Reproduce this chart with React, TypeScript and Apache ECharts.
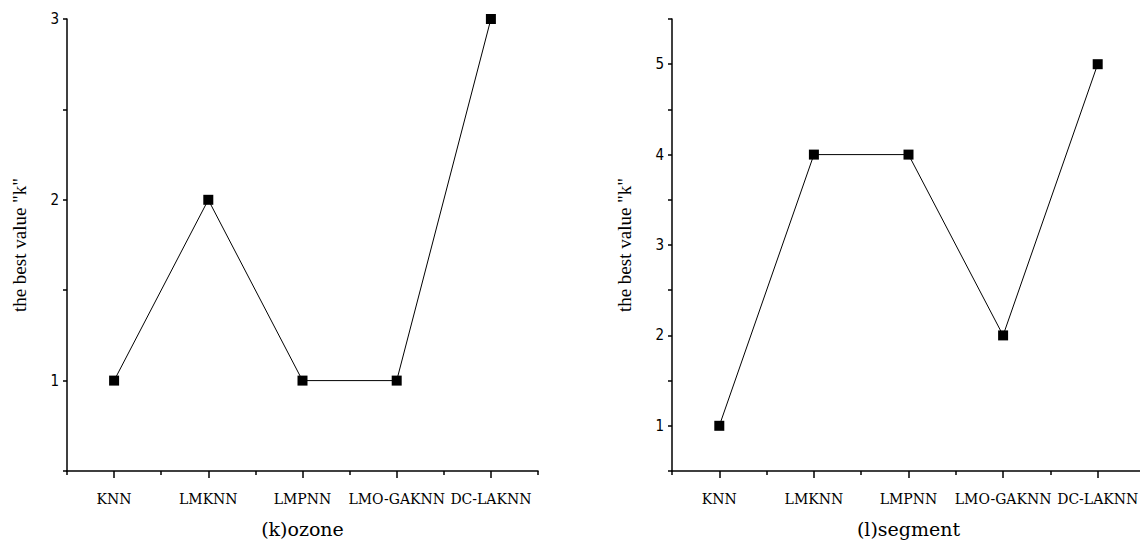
import React, { useEffect, useRef } from "react";
import * as echarts from "echarts";

const categories = ["KNN", "LMKNN", "LMPNN", "LMO-GAKNN", "DC-LAKNN"];
const ozoneValues = [1, 2, 1, 1, 3];
const segmentValues = [1, 4, 4, 2, 5];
const ozoneTitle = "(k)ozone";
const segmentTitle = "(l)segment";
const yName = 'the best value "k"';

const serif = "'DejaVu Serif', serif";
const times = "'Liberation Serif', 'Times New Roman', serif";
const narrow = "'Liberation Sans Narrow', 'DejaVu Sans Condensed', sans-serif";

function xAxes(gridIndex: number, title: string) {
  return [
    {
      type: "category",
      gridIndex,
      data: categories,
      boundaryGap: true,
      axisLine: { show: true, lineStyle: { color: "#000", width: 1.5 } },
      axisTick: {
        show: true,
        inside: false,
        interval: 0,
        alignWithLabel: true,
        length: 7,
        lineStyle: { color: "#000", width: 1.5 },
      },
      axisLabel: {
        show: true,
        interval: 0,
        hideOverlap: false,
        margin: 21,
        fontFamily: serif,
        fontSize: 14,
        color: "#000",
      },
      splitLine: { show: false },
      name: title,
      nameLocation: "middle",
      nameGap: 48,
      nameTextStyle: { fontFamily: serif, fontSize: 19, color: "#000" },
    },
    {
      type: "category",
      gridIndex,
      data: categories,
      boundaryGap: true,
      position: "bottom",
      axisLine: { show: false },
      axisTick: {
        show: true,
        inside: false,
        interval: 0,
        alignWithLabel: false,
        length: 4,
        lineStyle: { color: "#000", width: 1.5 },
      },
      axisLabel: { show: false },
      splitLine: { show: false },
    },
  ];
}

function yAxis(gridIndex: number, max: number) {
  return {
    type: "value",
    gridIndex,
    min: 0.5,
    max,
    interval: 0.5,
    axisLine: { show: true, lineStyle: { color: "#000", width: 1.5 } },
    axisTick: { show: true, inside: false, length: 4, lineStyle: { color: "#000", width: 1.5 } },
    axisLabel: {
      show: true,
      margin: 8,
      fontFamily: narrow,
      fontSize: 15,
      color: "#000",
      formatter: (v: number) => (Math.abs(v - Math.round(v)) < 1e-9 ? String(Math.round(v)) : ""),
    },
    splitLine: { show: false },
    name: yName,
    nameLocation: "middle",
    nameGap: 38,
    nameTextStyle: { fontFamily: times, fontSize: 19, color: "#000" },
  };
}

function lineSeries(xAxisIndex: number, yAxisIndex: number, data: number[]) {
  return {
    type: "line",
    xAxisIndex,
    yAxisIndex,
    data,
    symbol: "rect",
    symbolSize: 10,
    lineStyle: { color: "#000", width: 1 },
    itemStyle: { color: "#000" },
    clip: false,
  };
}

export default function App() {
  const ref = useRef<HTMLDivElement>(null);
  useEffect(() => {
    document.body.style.margin = "0";
    if (!ref.current) return;
    const chart = echarts.init(ref.current, undefined, { renderer: "svg" });
    chart.setOption({
      animation: false,
      backgroundColor: "#fff",
      grid: [
        { left: 67, top: 19, width: 471, height: 452, containLabel: false, outerBoundsMode: "none" },
        { left: 672, top: 19, width: 473, height: 452, containLabel: false, outerBoundsMode: "none" },
      ],
      xAxis: [...xAxes(0, ozoneTitle), ...xAxes(1, segmentTitle)],
      yAxis: [yAxis(0, 3), yAxis(1, 5.5)],
      series: [lineSeries(0, 0, ozoneValues), lineSeries(2, 1, segmentValues)],
    });
    return () => chart.dispose();
  }, []);
  return <div ref={ref} style={{ width: 1140, height: 549 }} />;
}
